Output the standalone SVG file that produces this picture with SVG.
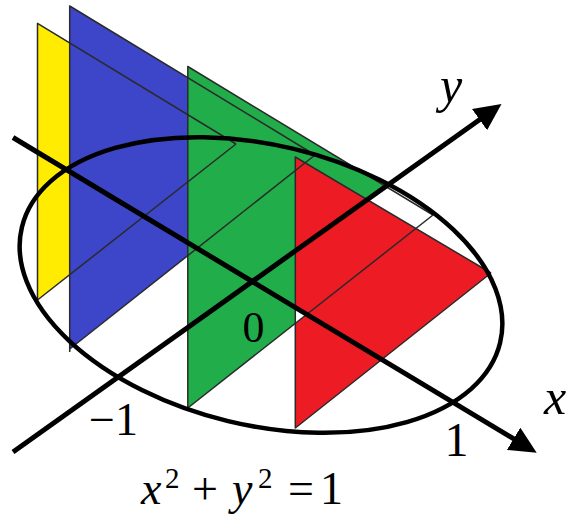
<svg xmlns="http://www.w3.org/2000/svg" width="566" height="523" viewBox="0 0 566 523">
<style>
.edge{fill:none;stroke:#2a2a2a;stroke-width:1.5;stroke-linejoin:round}
.curve{fill:none;stroke:#000;stroke-width:4.5}
.axis{fill:none;stroke:#000;stroke-width:5}
.lbl{fill:#000}
</style>
<defs>
<marker id="arr" viewBox="0 0 27 26" refX="12" refY="13" markerWidth="27" markerHeight="26" orient="auto" markerUnits="userSpaceOnUse">
<path d="M0,0 L27,13 L0,26 Z" fill="#000"/>
</marker>
</defs>
<g id="section-yellow"><polygon points="37.5,23.3 37.5,300 236,144" fill="#FFEC00"/></g>
<g id="section-blue"><polygon points="69.7,6 69.7,349 315,155" fill="#3D45C8"/></g>
<g id="section-green"><polygon points="187.8,66.5 187.8,408 433,215" fill="#22AD4B"/></g>
<g id="section-red"><polygon points="295.3,157 295.3,428 491,273" fill="#ED1C24"/></g>
<g id="gaps" fill="#fff">
<polygon points="385.2,186.5 433,215 415.9,228.5 366.9,199.5"/>
<polygon points="295.3,308 295.3,323.7 306.4,314.7"/>
</g>
<g id="connectors">
<polyline class="edge" points="236,144 37.5,23.3 37.5,300 236,144"/>
<polyline class="edge" points="315,155 69.7,6 69.7,352"/>
<line class="edge" x1="69.7" y1="349" x2="315" y2="155"/>
<polyline class="edge" points="433,215 187.8,66.5 187.8,408 433,215"/>
<polyline class="edge" points="491,273 295.3,157 295.3,428 491,273"/>
<ellipse id="disk" class="curve" cx="261" cy="285" rx="246" ry="140" transform="rotate(13.6 261 285)"/>
<line id="x-axis" class="axis" x1="13" y1="137.5" x2="523.85" y2="444.96" marker-end="url(#arr)"/>
<line id="y-axis" class="axis" x1="13" y1="452" x2="489.3" y2="112.7" marker-end="url(#arr)"/>
</g>
<g id="labels" font-family="'Liberation Serif', 'Times New Roman', 'DejaVu Serif', serif">
<text class="lbl" x="440" y="102" font-size="50" font-style="italic">y</text>
<text class="lbl" x="544" y="414" font-size="50" font-style="italic">x</text>
<text class="lbl" x="253.5" y="342" font-size="44" text-anchor="middle">0</text>
<text class="lbl" x="89" y="435" font-size="46">−1</text>
<text class="lbl" x="456.5" y="456" font-size="48" text-anchor="middle">1</text>
<text class="lbl" font-size="46"><tspan font-style="italic" x="141" y="504">x</tspan><tspan x="165" y="488" font-size="29">2</tspan><tspan x="192" y="504">+</tspan><tspan font-style="italic" x="232" y="504">y</tspan><tspan x="258" y="488" font-size="29">2</tspan><tspan x="288" y="504">=</tspan><tspan x="320" y="504">1</tspan></text>
</g>
</svg>
